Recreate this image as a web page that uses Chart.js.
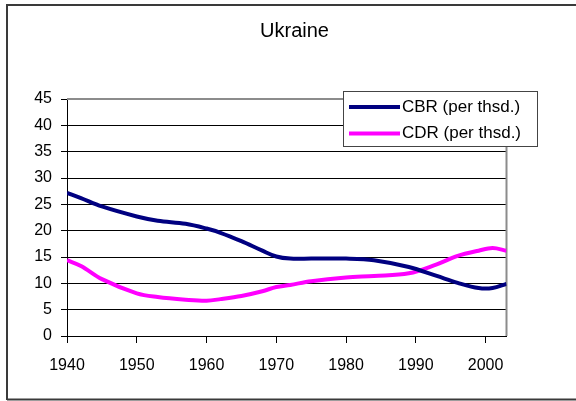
<!DOCTYPE html>
<html>
<head>
<meta charset="utf-8">
<script src="https://cdn.jsdelivr.net/npm/chart.js@4.4.0/dist/chart.umd.min.js"></script>
<style>
  html, body { margin: 0; padding: 0; background: #fff; }
  #wrap { width: 576px; height: 401px; position: relative; }
</style>
</head>
<body>
<div id="wrap"><canvas id="chart"></canvas></div>
<script>
// Ukraine, crude birth / death rates
const title = "Ukraine";
const years = [1940, 1942, 1945, 1950, 1953, 1957, 1960, 1962, 1965, 1968, 1970,
               1972, 1975, 1980, 1984, 1989, 1993, 1996, 1999, 2001, 2003];
const cbr = [27.2, 26.2, 24.6, 22.7, 21.9, 21.3, 20.4, 19.6, 18.0, 16.2, 15.1,
             14.7, 14.7, 14.7, 14.4, 13.1, 11.4, 10.1, 9.1, 9.1, 9.9];
const cdr = [14.4, 13.3, 10.8, 8.1, 7.4, 6.9, 6.7, 7.0, 7.6, 8.5, 9.3,
             9.7, 10.4, 11.1, 11.4, 11.9, 13.6, 15.2, 16.2, 16.7, 16.2];
const seriesNames = ["CBR (per thsd.)", "CDR (per thsd.)"];
const xTicks = [1940, 1950, 1960, 1970, 1980, 1990, 2000];
const yTicks = [0, 5, 10, 15, 20, 25, 30, 35, 40, 45];

const FONT = "'Liberation Sans', Arial, sans-serif";

const toPoints = (vals) => vals.map((v, i) => ({ x: years[i], y: v }));

// outer frame + grey plot border
const framePlugin = {
  id: "frame",
  beforeDraw(chart) {
    const c = chart.ctx;
    c.save();
    c.fillStyle = "#fff";
    c.fillRect(0, 0, chart.width, chart.height);
    c.strokeStyle = "#3a3a3a";
    c.lineWidth = 2;
    c.beginPath();
    c.moveTo(7, 400);
    c.lineTo(7, 5);
    c.lineTo(580, 5);
    c.moveTo(7, 399.5);
    c.lineTo(580, 399.5);
    c.stroke();
    c.restore();
  },
  beforeDatasetsDraw(chart) {
    const a = chart.chartArea;
    const c = chart.ctx;
    c.save();
    c.strokeStyle = "#8c8c8c";
    c.lineWidth = 2;
    c.beginPath();
    c.moveTo(a.left, a.top);
    c.lineTo(a.right, a.top);
    c.lineTo(a.right, a.bottom);
    c.stroke();
    c.restore();
  }
};

// boxed legend sitting over the top right of the plot
const legendBox = {
  id: "legendBox",
  afterDraw(chart) {
    const c = chart.ctx;
    const x0 = 343, y0 = 91, w = 194, h = 55;
    c.save();
    c.fillStyle = "#fff";
    c.fillRect(x0, y0, w, h);
    c.strokeStyle = "#444";
    c.lineWidth = 1;
    c.strokeRect(x0 + 0.5, y0 + 0.5, w, h);
    c.font = "17px " + FONT;
    c.textBaseline = "middle";
    chart.data.datasets.forEach((ds, i) => {
      const y = 107 + i * 26.5;
      c.strokeStyle = ds.borderColor;
      c.lineWidth = 4;
      c.beginPath();
      c.moveTo(349, y);
      c.lineTo(400, y);
      c.stroke();
      c.fillStyle = "#000";
      c.fillText(ds.label, 402, y);
    });
    c.restore();
  }
};

new Chart(document.getElementById("chart"), {
  type: "line",
  data: {
    datasets: [
      {
        label: seriesNames[0],
        data: toPoints(cbr),
        borderColor: "#000080",
        borderWidth: 4,
        pointRadius: 0,
        tension: 0.35,
        fill: false,
      },
      {
        label: seriesNames[1],
        data: toPoints(cdr),
        borderColor: "#ff00ff",
        borderWidth: 4,
        pointRadius: 0,
        tension: 0.35,
        fill: false,
      },
    ],
  },
  options: {
    responsive: true,
    maintainAspectRatio: false,
    animation: false,
    layout: { padding: { left: 13, right: 0, top: 0, bottom: 0 } },
    plugins: {
      legend: { display: false },
      tooltip: { enabled: false },
      title: {
        display: true,
        text: title,
        color: "#000",
        font: { family: FONT, size: 20, weight: "normal" },
        padding: { top: 19, bottom: 56 },
      },
    },
    scales: {
      x: {
        type: "linear",
        min: 1940,
        max: 2003,
        afterBuildTicks(scale) {
          scale.ticks = xTicks.map((v) => ({ value: v }));
        },
        afterFit(scale) {
          scale.height = 65;
        },
        ticks: {
          color: "#000",
          font: { family: FONT, size: 16 },
          padding: 13,
          maxRotation: 0,
          callback: (v) => String(v),
        },
        grid: { drawOnChartArea: false, drawTicks: true, tickLength: 7, color: "#000" },
        border: { color: "#000", width: 1 },
      },
      y: {
        min: 0,
        max: 45,
        afterBuildTicks(scale) {
          scale.ticks = yTicks.map((v) => ({ value: v }));
        },
        afterFit(scale) {
          scale.width = 54;
        },
        ticks: {
          color: "#000",
          font: { family: FONT, size: 16 },
          padding: 9,
          callback: (v) => String(v),
        },
        grid: { color: "#000", lineWidth: 1, tickLength: 6 },
        border: { color: "#000", width: 1 },
      },
      // empty right-hand axis, only reserves the margin right of the plot
      yRight: {
        position: "right",
        min: 0,
        max: 45,
        afterFit(scale) {
          scale.width = 69.5;
        },
        ticks: { display: false },
        grid: { display: false },
        border: { display: false },
      },
    },
  },
  plugins: [framePlugin, legendBox],
});
</script>
</body>
</html>
